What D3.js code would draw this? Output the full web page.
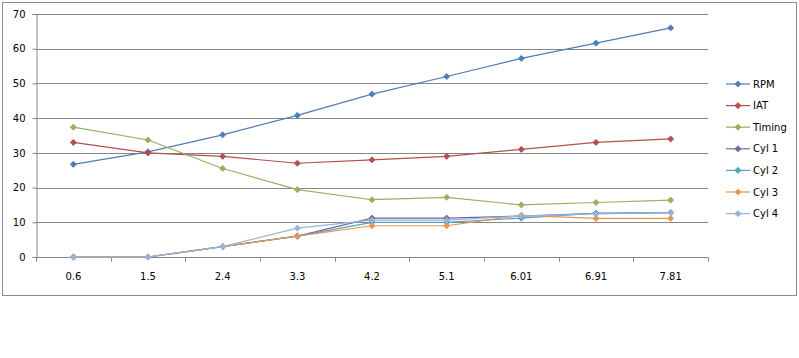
<!DOCTYPE html>
<html><head><meta charset="utf-8">
<script src="https://cdn.jsdelivr.net/npm/d3@7"></script>
<style>body{margin:0;background:#fff;} text{font-family:"DejaVu Sans",sans-serif;}</style>
</head><body><svg id="c" width="799" height="358"></svg>
<script>
const categories = ["0.6","1.5","2.4","3.3","4.2","5.1","6.01","6.91","7.81"];
const seriesNames = ["RPM","IAT","Timing","Cyl 1","Cyl 2","Cyl 3","Cyl 4"];
const rpm    = [26.7,30.3,35.2,40.8,46.9,52.0,57.2,61.6,66.0];
const iat    = [33,30,29,27,28,29,31,33,34];
const timing = [37.4,33.7,25.5,19.4,16.5,17.2,15.0,15.7,16.4];
const cyl1   = [0,0,3,6,11.2,11.2,11.8,12.6,12.8];
const cyl2   = [0,0,3,6,10,10,11.2,12.6,12.8];
const cyl3   = [0,0,3,6,9,9,12,11.1,11.1];
const cyl4   = [0,0,3,8.3,10.6,10.6,11.8,12.4,12.8];
const yTicks = [0,10,20,30,40,50,60,70];
const colors = ["#4F7DB5","#B54F4C","#97B05F","#7A64A0","#4EA5BE","#E8964E","#97B4D8"];
const seriesValues = [rpm,iat,timing,cyl1,cyl2,cyl3,cyl4];

const svg = d3.select("#c");
svg.append("rect").attr("x",2.5).attr("y",2.5).attr("width",794).attr("height",293)
  .attr("fill","#fff").attr("stroke","#8c8c8c").attr("stroke-width",1);

const L=36, R=708, T=14, B=257;
const x = d3.scaleBand().domain(categories).range([L,R]);
const y = d3.scaleLinear().domain([0,70]).range([B,T]);

// gridlines
svg.append("g").selectAll("line").data(yTicks.filter(d=>d>0)).join("line")
  .attr("x1",L).attr("x2",R).attr("y1",d=>Math.round(y(d))+0.5).attr("y2",d=>Math.round(y(d))+0.5)
  .attr("stroke","#868686").attr("stroke-width",1);

// y axis
const ya = svg.append("g").attr("transform",`translate(${L+0.5},0)`)
  .call(d3.axisLeft(y).tickValues(yTicks).tickSize(4).tickPadding(7).tickFormat(d3.format("d")));
ya.select(".domain").attr("stroke","#868686");
ya.selectAll(".tick line").attr("stroke","#868686");
ya.selectAll("text").attr("font-size",10).attr("fill","#000");

// x axis
const xa = svg.append("g").attr("transform",`translate(0,${B+0.5})`)
  .call(d3.axisBottom(x).tickSize(0).tickPadding(15));
xa.select(".domain").attr("stroke","#868686").attr("d",`M${L},0H${R}`);
xa.selectAll("text").attr("font-size",10).attr("fill","#000");
// category boundary tick marks
const bounds = categories.map(c=>x(c)).concat([R]);
xa.append("g").selectAll("line").data(bounds).join("line")
  .attr("x1",d=>Math.round(d)+0.5).attr("x2",d=>Math.round(d)+0.5).attr("y1",0).attr("y2",4)
  .attr("stroke","#868686");

const line = d3.line().x((d,i)=>x(categories[i])+x.bandwidth()/2).y(d=>y(d));
const diamond = d3.symbol().type(d3.symbolDiamond2).size(24);

seriesValues.forEach((vals,k)=>{
  const g = svg.append("g");
  g.append("path").datum(vals).attr("d",line).attr("fill","none")
    .attr("stroke",colors[k]).attr("stroke-width",1.2);
  g.selectAll("path.m").data(vals).join("path").attr("class","m")
    .attr("d",diamond)
    .attr("transform",(d,i)=>`translate(${x(categories[i])+x.bandwidth()/2},${y(d)})`)
    .attr("fill",colors[k]).attr("stroke",colors[k]).attr("stroke-width",0.8);
});

// legend
const lg = svg.append("g");
seriesNames.forEach((n,k)=>{
  const yy = 84 + k*21.6;
  lg.append("line").attr("x1",726).attr("x2",750).attr("y1",yy).attr("y2",yy)
    .attr("stroke",colors[k]).attr("stroke-width",1.2);
  lg.append("path").attr("d",diamond).attr("transform",`translate(738,${yy})`)
    .attr("fill",colors[k]).attr("stroke",colors[k]).attr("stroke-width",0.8);
  lg.append("text").attr("x",753).attr("y",yy+3.6).attr("font-size",10).attr("fill","#000").text(n);
});
</script></body></html>
